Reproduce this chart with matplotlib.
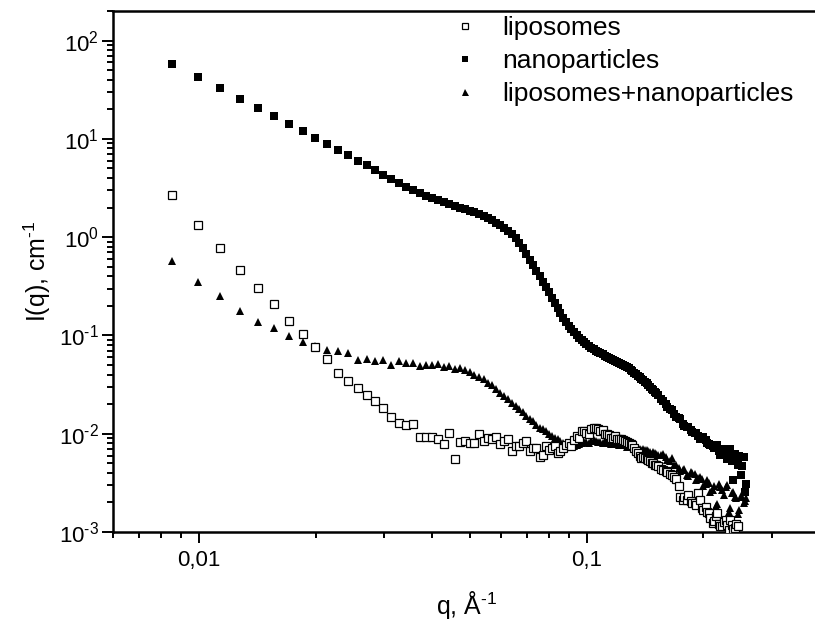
import numpy as np
import matplotlib
matplotlib.use("Agg")
import matplotlib.pyplot as plt
from matplotlib.ticker import LogLocator, FuncFormatter, NullFormatter

plt.rcParams["font.family"] = ["Liberation Sans", "DejaVu Sans"]
plt.rcParams["mathtext.fontset"] = "custom"
plt.rcParams["mathtext.rm"] = "Liberation Sans"
plt.rcParams["mathtext.default"] = "regular"

HYPHEN = "\u2010"  # short hyphen in superscripts, as in the original

# scattering vector, 1/A (common grid of the three curves)
q = [
    0.0085, 0.00993, 0.01136, 0.01278, 0.01421, 0.01564, 0.01707, 0.0185, 0.01992, 0.02135,
    0.02278, 0.02421, 0.02564, 0.02706, 0.02849, 0.02992, 0.03135, 0.03278, 0.0342, 0.03563,
    0.03706, 0.03849, 0.03992, 0.04134, 0.04277, 0.0442, 0.04563, 0.04706, 0.04848, 0.04991,
    0.05134, 0.05277, 0.0542, 0.05562, 0.05705, 0.05848, 0.05991, 0.06134, 0.06276, 0.06419,
    0.06562,
    0.06705, 0.06848, 0.0699, 0.07133, 0.07276, 0.07419, 0.07562, 0.07704, 0.07847, 0.0799,
    0.08133, 0.08276, 0.08418, 0.08561, 0.08704, 0.08847, 0.0899, 0.09132, 0.09275, 0.09418,
    0.09561, 0.09704, 0.09846, 0.09989, 0.10132, 0.10275, 0.10418, 0.1056, 0.10703, 0.10846,
    0.10989, 0.11132, 0.11274, 0.11417, 0.1156, 0.11703, 0.11846, 0.11988, 0.12131, 0.12274,
    0.12417, 0.1256, 0.12702, 0.12845, 0.12988, 0.13131, 0.13274, 0.13416, 0.13559, 0.13702,
    0.13845, 0.13988, 0.1413, 0.14273, 0.14416, 0.14559, 0.14702, 0.14844, 0.14987, 0.1513,
    0.15273, 0.15558, 0.15701, 0.15987, 0.1613, 0.16415, 0.16558, 0.16844, 0.16986, 0.17272,
    0.17415, 0.177, 0.17843, 0.18129, 0.18272, 0.18557, 0.187, 0.18986, 0.19128, 0.19414,
    0.19557, 0.19842, 0.19985, 0.20271, 0.20414, 0.20699, 0.20842, 0.21128, 0.2127, 0.21556,
    0.21699, 0.21984, 0.22127, 0.22413, 0.22556, 0.22841, 0.22984, 0.2327, 0.23412, 0.23698,
    0.23841, 0.24126, 0.24269, 0.24555, 0.24698, 0.24983, 0.25126, 0.25412, 0.25554, 0.2584,
]

liposomes = [
    2.68, 1.34, 0.772, 0.467, 0.304, 0.210, 0.141, 0.1031, 0.0769, 0.0573,
    0.0419, 0.0346, 0.0295, 0.0246, 0.0215, 0.0184, 0.0148, 0.0130, 0.0122, 0.0127,
    0.00932, 0.00932, 0.00932, 0.00889, 0.00778, 0.0102, 0.00547, 0.00821, 0.00840, 0.00810,
    0.00810, 0.00984, 0.00840, 0.00910, 0.00875, 0.00932, 0.00778, 0.00840, 0.00889, 0.00665,
    0.00747,
    0.00747, 0.00796, 0.00840, 0.00665, 0.00720, 0.00720, 0.00583, 0.00601, 0.00747, 0.00676,
    0.00720, 0.00742, 0.00640, 0.00660, 0.00708, 0.00760, 0.00796, 0.00742, 0.00854, 0.00939,
    0.00910, 0.01056, 0.01063, 0.01007, 0.00984, 0.01106, 0.01133, 0.01151, 0.01106, 0.01056,
    0.0108, 0.00984, 0.00984, 0.00961, 0.00910, 0.00910, 0.00939, 0.00875, 0.00875, 0.00875,
    0.00854, 0.00834, 0.00815, 0.00796, 0.00778, 0.00760, 0.00708, 0.00660, 0.00630, 0.00587,
    0.00569, 0.00573, 0.00560, 0.00547, 0.00534, 0.00525, 0.00506, 0.00506, 0.00486, 0.00475,
    0.00464, 0.00442, 0.00432, 0.00422, 0.00412, 0.00393, 0.00384, 0.00367, 0.00350, 0.00292,
    0.00229, 0.00214, 0.00229, 0.00214, 0.00240, 0.00205, 0.00199, 0.00198, 0.00190, 0.00250,
    0.00214, 0.00176, 0.00169, 0.00181, 0.00161, 0.00156, 0.00140, 0.00124, 0.00130, 0.00144,
    0.00157, 0.00122, 0.00116, 0.00114, 0.00127, 0.00134, 0.00119, 0.00106, 0.00134, 0.00119,
    0.00108, 0.00110, 0.00122, 0.00114, np.nan, np.nan, np.nan, np.nan, np.nan, np.nan,
]

nanoparticles = [
    57.7, 42.2, 33.1, 25.6, 20.7, 17.2, 14.2, 11.98, 10.2, 8.81,
    7.65, 6.80, 5.96, 5.38, 4.78, 4.32, 3.87, 3.52, 3.24, 3.00,
    2.80, 2.64, 2.49, 2.37, 2.27, 2.16, 2.06, 1.99, 1.92, 1.86,
    1.79, 1.71, 1.63, 1.55, 1.48, 1.40, 1.32, 1.24, 1.16, 1.08,
    0.984,
    0.875, 0.778, 0.675, 0.587, 0.516, 0.453, 0.398, 0.350, 0.311, 0.277,
    0.243, 0.214, 0.190, 0.169, 0.152, 0.137, 0.126, 0.116, 0.108, 0.1007,
    0.0950, 0.0895, 0.0854, 0.0815, 0.0778, 0.0751, 0.0725, 0.0700, 0.0684, 0.0660,
    0.0644, 0.0622, 0.0601, 0.0587, 0.0573, 0.0560, 0.0547, 0.0534, 0.0522, 0.0510,
    0.0498, 0.0486, 0.0475, 0.0464, 0.0448, 0.0432, 0.0417, 0.0403, 0.0389, 0.0375,
    0.0362, 0.0350, 0.0338, 0.0326, 0.0311, 0.0297, 0.0286, 0.0277, 0.0267, 0.0258,
    0.0246, 0.0224, 0.0214, 0.0199, 0.0186, 0.0177, 0.0173, 0.0157, 0.0147, 0.0143,
    0.0140, 0.0127, 0.0119, 0.0116, 0.0116, 0.0108, 0.0103, 0.01007, 0.01007, 0.00939,
    0.00875, 0.00895, 0.00917, 0.00854, 0.00796, 0.00778, 0.00760, 0.00742, 0.00708, 0.00708,
    0.00760, 0.00660, 0.00601, 0.00692, 0.00660, 0.00615, 0.00547, 0.00573, 0.00692, 0.00522,
    0.00342, 0.00615, 0.00522, 0.00475, 0.00587, 0.00384, 0.00464, 0.00573, 0.00258, 0.00311,
]

lipo_nano = [
    0.577, 0.347, 0.250, 0.178, 0.138, 0.118, 0.0995, 0.0848, 0.0783, 0.0716,
    0.0697, 0.0660, 0.0560, 0.0580, 0.0553, 0.0560, 0.0504, 0.0547, 0.0522, 0.0528,
    0.0492, 0.0498, 0.0504, 0.0510, 0.0475, 0.0486, 0.0453, 0.0469, 0.0442, 0.0422,
    0.0394, 0.0380, 0.0358, 0.0330, 0.0311, 0.0283, 0.0261, 0.0243, 0.0224, 0.0206,
    0.0190,
    0.0177, 0.0165, 0.0150, 0.0140, 0.0134, 0.0122, 0.01146, 0.0111, 0.01056, 0.00995,
    0.00939, 0.00895, 0.00875, 0.00834, 0.00805, 0.00787, 0.00778, 0.00760, 0.00742, 0.00760,
    0.00778, 0.00796, 0.00825, 0.00815, 0.00796, 0.00844, 0.00865, 0.00834, 0.00815, 0.00815,
    0.00796, 0.00834, 0.00844, 0.00805, 0.00778, 0.00796, 0.00815, 0.00778, 0.00760, 0.00796,
    0.00778, 0.00760, 0.00733, 0.00742, 0.00751, 0.00725, 0.00708, 0.00708, 0.00716, 0.00692,
    0.00676, 0.00692, 0.00684, 0.00676, 0.00660, 0.00645, 0.00622, 0.00645, 0.00630, 0.00615,
    0.00601, 0.00601, 0.00615, 0.00573, 0.00534, 0.00522, 0.00560, 0.00475, 0.00475, 0.00453,
    0.00422, 0.00432, 0.00442, 0.00384, 0.00375, 0.00412, 0.00403, 0.00393, 0.00342, 0.00358,
    0.00367, 0.00350, 0.00297, 0.00311, 0.00342, 0.00318, 0.00258, 0.00270, 0.00297, 0.00186,
    0.00194, 0.00311, 0.00290, 0.00270, 0.00240, 0.00290, 0.00304, 0.00161, 0.00177, 0.00252,
    0.00258, 0.00229, 0.00224, 0.00154, 0.00169, 0.00235, 0.00229, 0.00199, 0.00209, 0.00224,
]


def pow10_label(v, pos):
    e = int(round(np.log10(v)))
    return "$10^{%s}$" % str(e).replace("-", HYPHEN)


fig = plt.figure(figsize=(8.15, 6.24), dpi=100)
# axes run a little past the right edge of the picture, like the original crop
ax = fig.add_axes([113 / 815, 92 / 624, 707 / 815, 521 / 624])

ax.plot(q, liposomes, "s", ms=5.3, mfc="white", mec="black", mew=0.9,
        label="liposomes", zorder=4)
ax.plot(q, nanoparticles, "s", ms=5.3, color="black", mew=0,
        label="nanoparticles", zorder=3)
ax.plot(q, lipo_nano, "^", ms=6.3, color="black", mew=0,
        label="liposomes+nanoparticles", zorder=2)

ax.set_xscale("log")
ax.set_yscale("log")
ax.set_xlim(0.006, 0.4)
ax.set_ylim(1e-3, 200)

ax.xaxis.set_major_locator(LogLocator(base=10))
ax.xaxis.set_minor_locator(LogLocator(base=10, subs=np.arange(2, 10)))
ax.xaxis.set_major_formatter(FuncFormatter(lambda v, p: f"{v:g}".replace(".", ",")))
ax.xaxis.set_minor_formatter(NullFormatter())
ax.yaxis.set_major_locator(LogLocator(base=10, numticks=10))
ax.yaxis.set_minor_locator(LogLocator(base=10, subs=np.arange(2, 10), numticks=10))
ax.yaxis.set_major_formatter(FuncFormatter(pow10_label))
ax.yaxis.set_minor_formatter(NullFormatter())

for s in ax.spines.values():
    s.set_linewidth(1.8)
ax.tick_params(which="both", direction="out", width=1.4, labelsize=16,
               top=False, right=False)
ax.tick_params(which="major", length=8)
ax.tick_params(which="minor", length=4)
ax.tick_params(axis="x", which="major", pad=5)
ax.tick_params(axis="y", which="major", pad=2)

ax.set_xlabel("q, Å$^{%s1}$" % HYPHEN, fontsize=18, labelpad=13)
ax.set_ylabel("I(q), cm$^{%s1}$" % HYPHEN, fontsize=18, labelpad=4)

ax.legend(loc="upper left", bbox_to_anchor=(452 / 815, 1 - 16 / 624),
          bbox_transform=fig.transFigure, frameon=False, fontsize=19,
          handlelength=1.0, handletextpad=0.9, labelspacing=0.35,
          borderpad=0, borderaxespad=0, markerscale=0.8, numpoints=1)

fig.savefig("out.png", dpi=100)
